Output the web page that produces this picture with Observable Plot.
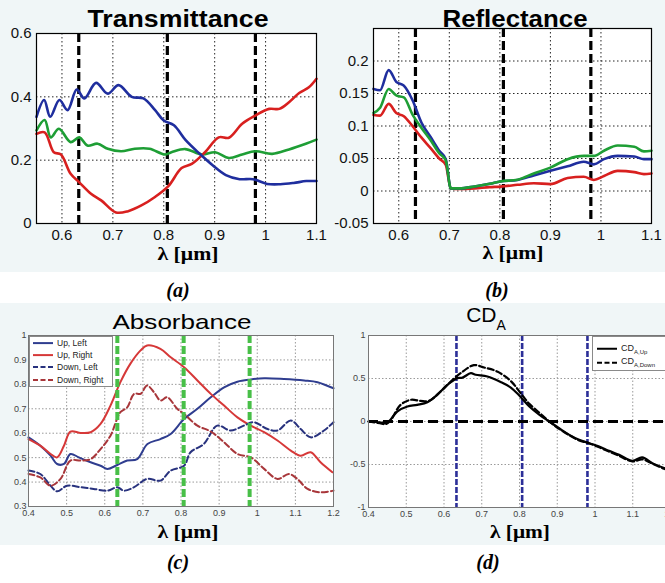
<!DOCTYPE html>
<html><head><meta charset="utf-8">
<script src="https://cdn.jsdelivr.net/npm/d3@7"></script>
<script src="https://cdn.jsdelivr.net/npm/@observablehq/plot@0.6"></script>
<style>
html,body{margin:0;padding:0;background:#fff;}
#root{position:relative;width:665px;height:583px;overflow:hidden;background:#fff;}
.tint{position:absolute;background:#f0f6f7;}
.legend{position:absolute;background:#fff;border:1px solid #8a8a8a;font-family:'Liberation Sans',Arial,sans-serif;color:#222;overflow:hidden;box-sizing:border-box;}
.legend .row{display:flex;align-items:center;white-space:nowrap;}
.legend sub{color:#222;}
</style></head><body><div id="root"></div>
<script>
// ---------- data ----------
const markerLambda = [0.633, 0.807, 0.98];

// (a) Transmittance
const transBlueL = [0.55,0.565,0.577,0.595,0.611,0.629,0.644,0.667,0.69,0.711,0.737,0.76,0.783,0.80,0.82,0.843,0.87,0.896,0.922,0.949,0.975,1.003,1.029,1.055,1.08,1.1];
const transBlueV = [0.337,0.39,0.337,0.39,0.358,0.423,0.395,0.444,0.41,0.437,0.40,0.395,0.358,0.325,0.31,0.263,0.221,0.184,0.153,0.140,0.140,0.125,0.124,0.128,0.134,0.134];
const transGreenL = [0.55,0.566,0.578,0.594,0.617,0.634,0.65,0.67,0.69,0.716,0.743,0.772,0.802,0.815,0.842,0.875,0.901,0.928,0.954,0.98,1.013,1.046,1.079,1.1];
const transGreenV = [0.294,0.327,0.272,0.299,0.257,0.272,0.246,0.252,0.236,0.228,0.236,0.236,0.218,0.225,0.235,0.218,0.225,0.207,0.218,0.228,0.22,0.234,0.252,0.265];
const transRedL = [0.55,0.566,0.584,0.598,0.617,0.634,0.657,0.677,0.706,0.73,0.756,0.782,0.809,0.835,0.855,0.881,0.908,0.928,0.954,0.98,1.007,1.027,1.046,1.066,1.085,1.1];
const transRedV = [0.283,0.288,0.225,0.218,0.157,0.13,0.094,0.073,0.035,0.039,0.057,0.083,0.118,0.175,0.188,0.225,0.272,0.271,0.315,0.341,0.362,0.362,0.383,0.412,0.43,0.457];

// (b) Reflectance
const reflL = [0.55,0.563,0.58,0.595,0.61,0.627,0.645,0.663,0.68,0.693,0.703,0.72,0.75,0.78,0.801,0.835,0.867,0.9,0.934,0.966,0.986,1.006,1.033,1.066,1.085,1.1];
const reflBlueV  = [0.157,0.155,0.186,0.168,0.162,0.14,0.105,0.083,0.062,0.049,0.004,0.004,0.007,0.011,0.0147,0.017,0.024,0.031,0.038,0.045,0.041,0.049,0.054,0.053,0.049,0.049];
const reflGreenV = [0.12,0.128,0.157,0.147,0.144,0.118,0.097,0.078,0.058,0.047,0.004,0.004,0.007,0.011,0.0147,0.0174,0.027,0.036,0.049,0.054,0.054,0.062,0.07,0.068,0.061,0.062];
const reflRedV   = [0.117,0.116,0.134,0.12,0.115,0.1,0.082,0.066,0.05,0.04,0.004,0.003,0.004,0.006,0.0068,0.0095,0.012,0.0106,0.02,0.022,0.017,0.023,0.031,0.029,0.026,0.027];

// (c) Absorbance
const absUpLeftL = [0.4,0.431,0.458,0.475,0.493,0.51,0.532,0.563,0.589,0.607,0.633,0.659,0.685,0.712,0.746,0.773,0.808,0.843,0.878,0.913,0.948,0.983,1.018,1.07,1.123,1.158,1.2];
const absUpLeftV = [0.583,0.549,0.508,0.474,0.474,0.515,0.501,0.481,0.467,0.454,0.47,0.488,0.494,0.556,0.576,0.597,0.658,0.70,0.747,0.788,0.811,0.82,0.825,0.822,0.816,0.809,0.784];
const absUpRightL = [0.4,0.431,0.458,0.475,0.493,0.51,0.537,0.563,0.589,0.615,0.641,0.667,0.694,0.711,0.746,0.773,0.808,0.843,0.878,0.913,0.948,0.983,1.018,1.053,1.088,1.114,1.14,1.166,1.197];
const absUpRightV = [0.576,0.549,0.515,0.501,0.549,0.607,0.601,0.604,0.638,0.713,0.809,0.884,0.939,0.959,0.945,0.911,0.87,0.816,0.761,0.713,0.665,0.631,0.604,0.57,0.529,0.508,0.522,0.481,0.44];
const absDownLeftL = [0.4,0.431,0.458,0.475,0.501,0.537,0.571,0.607,0.633,0.65,0.677,0.711,0.746,0.773,0.808,0.825,0.86,0.895,0.93,0.965,0.991,1.027,1.053,1.088,1.114,1.14,1.175,1.2];
const absDownLeftV = [0.447,0.433,0.385,0.362,0.385,0.379,0.372,0.365,0.379,0.365,0.379,0.413,0.406,0.447,0.467,0.522,0.556,0.631,0.611,0.631,0.645,0.617,0.611,0.652,0.617,0.583,0.611,0.645];
const absDownRightL = [0.4,0.431,0.458,0.484,0.51,0.537,0.563,0.589,0.615,0.641,0.659,0.677,0.694,0.711,0.729,0.746,0.764,0.79,0.808,0.843,0.878,0.913,0.948,0.983,1.018,1.053,1.083,1.105,1.132,1.166,1.2];
const absDownRightV = [0.433,0.419,0.385,0.413,0.488,0.488,0.494,0.535,0.59,0.686,0.706,0.761,0.761,0.795,0.768,0.734,0.747,0.70,0.679,0.631,0.607,0.563,0.515,0.501,0.454,0.413,0.433,0.413,0.372,0.358,0.365];
const absNames = ["Up, Left", "Up, Right", "Down, Left", "Down, Right"];

// (d) CD_A
const cdUpL = [0.4,0.43,0.445,0.458,0.476,0.503,0.529,0.556,0.582,0.609,0.635,0.649,0.671,0.684,0.715,0.75,0.777,0.8,0.826,0.853,0.879,0.905,0.932,0.958,0.985,1.011,1.037,1.064,1.099,1.125,1.152,1.183,1.2];
const cdUpV = [0.0,-0.01,-0.02,0.02,0.116,0.174,0.194,0.225,0.31,0.426,0.504,0.51,0.562,0.543,0.523,0.46,0.395,0.3,0.175,0.078,0.0,-0.078,-0.155,-0.213,-0.252,-0.29,-0.341,-0.388,-0.457,-0.418,-0.484,-0.542,-0.57];
const cdDownL = [0.4,0.43,0.445,0.458,0.485,0.512,0.538,0.56,0.591,0.618,0.644,0.679,0.706,0.741,0.777,0.803,0.826,0.853,0.879,0.905,0.932,0.958,0.985,1.011,1.037,1.064,1.099,1.125,1.152,1.183,1.2];
const cdDownV = [0.0,-0.02,-0.03,0.01,0.194,0.252,0.24,0.24,0.349,0.465,0.562,0.655,0.628,0.581,0.47,0.33,0.205,0.1,0.0,-0.085,-0.16,-0.22,-0.255,-0.30,-0.35,-0.40,-0.465,-0.44,-0.49,-0.55,-0.575];

// ticks
const ticksX055 = [0.6, 0.7, 0.8, 0.9, 1.0, 1.1];
const ticksYTrans = [0, 0.2, 0.4, 0.6];
const ticksYRefl = [-0.05, 0, 0.05, 0.1, 0.15, 0.2];
const ticksX04 = [0.4, 0.5, 0.6, 0.7, 0.8, 0.9, 1.0, 1.1, 1.2];
const ticksYAbs = [0.3, 0.4, 0.5, 0.6, 0.7, 0.8, 0.9, 1.0];
const ticksYCD = [-1, -0.5, 0, 0.5, 1];
const zeroLine = [0];

// ---------- helpers ----------
const root = document.getElementById("root");
const rows = (L, V) => L.map((l, i) => ({l, v: V[i]}));
const fmt = d => String(+d.toFixed(2));
function place(el, left, top) {
  el.style.position = "absolute"; el.style.left = left + "px"; el.style.top = top + "px";
  root.appendChild(el);
}
function tint(l, t, w, h) { const d = document.createElement("div"); d.className = "tint";
  Object.assign(d.style, {left: l + "px", top: t + "px", width: w + "px", height: h + "px"}); root.appendChild(d); }

tint(0, 0, 330, 272); tint(330, 0, 335, 272); tint(0, 303, 335, 242); tint(335, 303, 330, 242);

const bigStyle = {fontFamily: "'Liberation Sans', Arial, sans-serif", fontSize: "15px", color: "#111", background: "transparent", overflow: "visible"};
const smallStyle = {fontFamily: "'Liberation Sans', Arial, sans-serif", fontSize: "9px", color: "#444", background: "transparent", overflow: "visible"};
const dotGrid = {stroke: "#000", strokeOpacity: 0.85, strokeWidth: 1, strokeDasharray: "1.5,2.5"};
const greyGrid = {stroke: "#9a9a9a", strokeOpacity: 1, strokeWidth: 1, strokeDasharray: "1.5,2"};

const C = {blue: "#1f2e9e", green: "#1e9e35", red: "#d8201f"};

// ---------- (a) Transmittance ----------
const pA = Plot.plot({
  width: 330, height: 270, marginLeft: 36, marginRight: 14, marginTop: 33, marginBottom: 47,
  style: bigStyle,
  x: {domain: [0.55, 1.1]}, y: {domain: [0, 0.6]},
  marks: [
    Plot.frame({fill: "white"}),
    Plot.gridX(ticksX055, dotGrid),
    Plot.gridY(ticksYTrans, dotGrid),
    Plot.ruleX(markerLambda, {stroke: "#000", strokeWidth: 3.2, strokeDasharray: "9,4"}),
    Plot.line(rows(transGreenL, transGreenV), {x: "l", y: "v", stroke: C.green, strokeWidth: 2.6, curve: "catmull-rom"}),
    Plot.line(rows(transRedL, transRedV), {x: "l", y: "v", stroke: C.red, strokeWidth: 2.6, curve: "catmull-rom"}),
    Plot.line(rows(transBlueL, transBlueV), {x: "l", y: "v", stroke: C.blue, strokeWidth: 2.6, curve: "catmull-rom"}),
    Plot.frame({stroke: "#000", strokeWidth: 1.2}),
    Plot.axisX(ticksX055, {tickSize: 0, tickPadding: 6, tickFormat: fmt, label: null, fontSize: 15}),
    Plot.axisY(ticksYTrans, {tickSize: 0, tickPadding: 5, tickFormat: fmt, label: null, fontSize: 15})
  ]
});
place(pA, 0, 0);

// ---------- (b) Reflectance ----------
const pB = Plot.plot({
  width: 335, height: 270, marginLeft: 43, marginRight: 14, marginTop: 28, marginBottom: 47,
  style: bigStyle,
  x: {domain: [0.55, 1.1]}, y: {domain: [-0.05, 0.25]},
  marks: [
    Plot.frame({fill: "white"}),
    Plot.gridX(ticksX055, dotGrid),
    Plot.gridY(ticksYRefl, dotGrid),
    Plot.ruleX(markerLambda, {stroke: "#000", strokeWidth: 3.2, strokeDasharray: "9,4"}),
    Plot.line(rows(reflL, reflRedV), {x: "l", y: "v", stroke: C.red, strokeWidth: 2.6, curve: "monotone-x"}),
    Plot.line(rows(reflL, reflBlueV), {x: "l", y: "v", stroke: C.blue, strokeWidth: 2.6, curve: "monotone-x"}),
    Plot.line(rows(reflL, reflGreenV), {x: "l", y: "v", stroke: C.green, strokeWidth: 2.6, curve: "monotone-x"}),
    Plot.frame({stroke: "#000", strokeWidth: 1.2}),
    Plot.axisX(ticksX055, {tickSize: 0, tickPadding: 6, tickFormat: fmt, label: null, fontSize: 15}),
    Plot.axisY(ticksYRefl, {tickSize: 0, tickPadding: 5, tickFormat: fmt, label: null, fontSize: 15})
  ]
});
place(pB, 330, 0);

// ---------- (c) Absorbance ----------
const absSeries = [
  {name: absNames[0], L: absUpLeftL, V: absUpLeftV, color: "#2f3d8f", dash: null},
  {name: absNames[1], L: absUpRightL, V: absUpRightV, color: "#d63838", dash: null},
  {name: absNames[2], L: absDownLeftL, V: absDownLeftV, color: "#28327e", dash: "6,3"},
  {name: absNames[3], L: absDownRightL, V: absDownRightV, color: "#a8363a", dash: "6,3"}
];
const pC = Plot.plot({
  width: 345, height: 245, marginLeft: 28, marginRight: 12, marginTop: 35, marginBottom: 39,
  style: smallStyle,
  x: {domain: [0.4, 1.2]}, y: {domain: [0.3, 1.0]},
  marks: [
    Plot.frame({fill: "white"}),
    Plot.gridX(ticksX04, greyGrid),
    Plot.gridY(ticksYAbs, greyGrid),
    ...absSeries.map(s => Plot.line(rows(s.L, s.V), {x: "l", y: "v", stroke: s.color, strokeWidth: 2, strokeDasharray: s.dash, curve: "catmull-rom"})),
    Plot.ruleX(markerLambda, {stroke: "#48bf48", strokeWidth: 4, strokeDasharray: "8,3"}),
    Plot.frame({stroke: "#777", strokeWidth: 1}),
    Plot.axisX(ticksX04, {tickSize: 0, tickPadding: 3, tickFormat: fmt, label: null, fontSize: 9}),
    Plot.axisY(ticksYAbs, {tickSize: 0, tickPadding: 2, tickFormat: fmt, label: null, fontSize: 9})
  ]
});
place(pC, 0, 300);

// ---------- (d) CD_A ----------
const cdSeries = [
  {name: "Up", L: cdUpL, V: cdUpV, dash: null},
  {name: "Down", L: cdDownL, V: cdDownV, dash: "6,3"}
];
const pD = Plot.plot({
  width: 345, height: 245, marginLeft: 33, marginRight: 10, marginTop: 35, marginBottom: 38,
  style: smallStyle,
  x: {domain: [0.4, 1.2]}, y: {domain: [-1, 1]},
  marks: [
    Plot.frame({fill: "white"}),
    Plot.gridX(ticksX04, greyGrid),
    Plot.gridY(ticksYCD, greyGrid),
    Plot.ruleX(markerLambda, {stroke: "#2c2f98", strokeWidth: 2.6, strokeDasharray: "6,2"}),
    Plot.ruleY(zeroLine, {stroke: "#000", strokeWidth: 3, strokeDasharray: "10,5"}),
    ...cdSeries.map(s => Plot.line(rows(s.L, s.V), {x: "l", y: "v", stroke: "#000", strokeWidth: 2.2, strokeDasharray: s.dash, curve: "catmull-rom"})),
    Plot.frame({stroke: "#777", strokeWidth: 1}),
    Plot.axisX(ticksX04, {tickSize: 0, tickPadding: 3, tickFormat: fmt, label: null, fontSize: 9}),
    Plot.axisY(ticksYCD, {tickSize: 0, tickPadding: 3, tickFormat: fmt, label: null, fontSize: 9})
  ]
});
place(pD, 335, 300);

// ---------- legends ----------
function legend(left, top, w, h, padTop, rowH, items) {
  const box = document.createElement("div"); box.className = "legend";
  Object.assign(box.style, {left: left + "px", top: top + "px", width: w + "px", height: h + "px", paddingTop: padTop + "px"});
  items.forEach(it => {
    const r = document.createElement("div"); r.className = "row"; r.style.height = rowH + "px";
    const svg = d3.create("svg").attr("width", it.lineW + it.pad).attr("height", rowH).style("flex", "none");
    svg.append("line").attr("x1", it.pad).attr("x2", it.pad + it.lineW - 2).attr("y1", rowH / 2).attr("y2", rowH / 2)
      .attr("stroke", it.color).attr("stroke-width", it.width).attr("stroke-dasharray", it.dash);
    r.appendChild(svg.node());
    const t = document.createElement("span"); t.innerHTML = it.html; t.style.fontSize = it.fs + "px"; t.style.marginLeft = "2px";
    r.appendChild(t); box.appendChild(r);
  });
  root.appendChild(box);
}
legend(29, 336, 84, 51, 0, 12.2, absSeries.map(s => ({html: s.name, color: s.color, dash: s.dash ? "5,2.5" : null, width: 2, lineW: 22, pad: 3, fs: 8.5})));
legend(592, 336, 90, 35, 5, 13.5, cdSeries.map(s => ({html: 'CD<sub style="font-size:6px">A,' + s.name + '</sub>', color: "#000", dash: s.dash ? "5,2.5" : null, width: 2, lineW: 22, pad: 4, fs: 9})));

// ---------- text overlay ----------
const ov = d3.create("svg").attr("width", 665).attr("height", 583).style("pointer-events", "none");
const sans = "'Liberation Sans', Arial, sans-serif", serif = "'Liberation Serif', 'Times New Roman', serif";
function txt(s, x, y, fs, family, weight, style, len) {
  const t = ov.append("text").attr("x", x).attr("y", y).attr("text-anchor", "middle").attr("font-size", fs)
    .attr("font-family", family).attr("font-weight", weight || "normal").attr("font-style", style || "normal").attr("fill", "#000").text(s);
  if (len) t.attr("textLength", len).attr("lengthAdjust", "spacingAndGlyphs");
  return t;
}
txt("Transmittance", 178, 27, 24, sans, "bold", null, 181);
txt("Reflectance", 515, 27, 24, sans, "bold", null, 145);
txt("λ [μm]", 188, 260, 19, serif, "bold", null, 61);
txt("λ [μm]", 513, 259, 19, serif, "bold", null, 61);
txt("(a)", 178, 297, 20, serif, "bold", "italic");
txt("(b)", 497, 297, 20, serif, "bold", "italic");
txt("Absorbance", 182, 329, 21, sans, "normal", null, 139);
const cd = ov.append("text").attr("x", 486).attr("y", 322).attr("text-anchor", "middle").attr("font-size", 21).attr("font-family", sans);
cd.append("tspan").text("CD");
cd.append("tspan").attr("font-size", 14).attr("dy", 8).text("A");
txt("λ [μm]", 188, 538, 19, serif, "bold", null, 61);
txt("λ [μm]", 520, 538, 19, serif, "bold", null, 60);
txt("(c)", 178, 569, 20, serif, "bold", "italic");
txt("(d)", 488, 569, 20, serif, "bold", "italic");
place(ov.node(), 0, 0);
</script></body></html>
